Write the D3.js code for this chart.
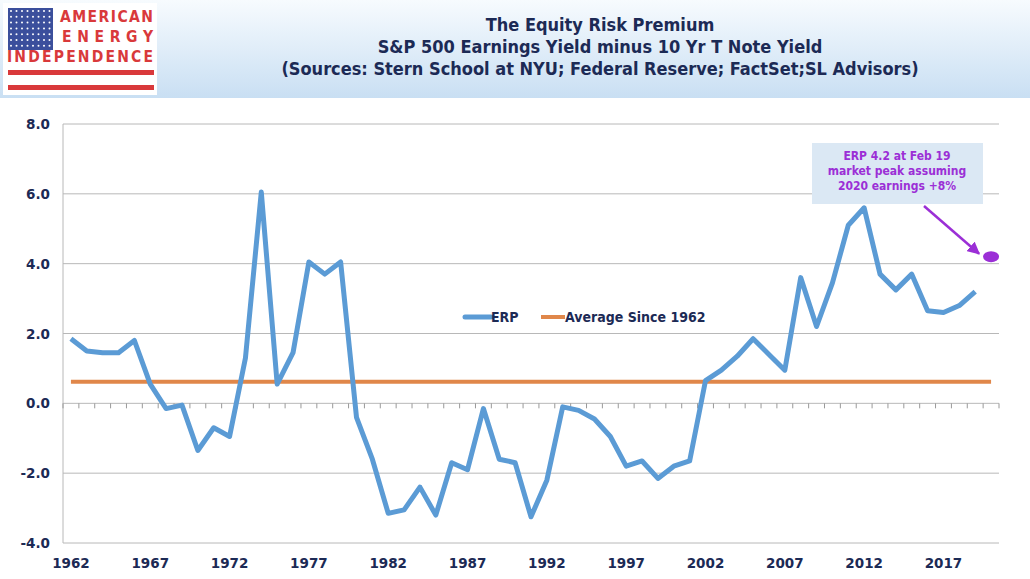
<!DOCTYPE html>
<html><head><meta charset="utf-8">
<script src="https://cdn.jsdelivr.net/npm/d3@7"></script>
<style>body{margin:0;background:#fff}</style>
</head><body>
<svg id="chart" width="1030" height="579"></svg>
<script>
const years = d3.range(1962, 2021);
const erp = [1.85,1.5,1.45,1.45,1.8,0.55,-0.15,-0.05,-1.35,-0.7,-0.95,1.3,6.05,0.55,1.45,4.05,3.7,4.05,-0.4,-1.6,
  -3.15,-3.05,-2.4,-3.2,-1.7,-1.9,-0.15,-1.6,-1.7,-3.25,-2.2,-0.1,-0.2,-0.45,-0.95,-1.8,-1.65,-2.15,-1.8,-1.65,
  0.65,0.95,1.35,1.85,1.4,0.95,3.6,2.2,3.45,5.1,5.6,3.7,3.25,3.7,2.65,2.6,2.8,3.2];
const average = 0.62;
const projected = {year: 2020, value: 4.2};
const yTicks = [-4, -2, 0, 2, 4, 6, 8];
const xLabels = [1962,1967,1972,1977,1982,1987,1992,1997,2002,2007,2012,2017];
const titleLines = ["The Equity Risk Premium", "S&P 500 Earnings Yield minus 10 Yr T Note Yield",
  "(Sources: Stern School at NYU; Federal Reserve; FactSet;SL Advisors)"];
const noteLines = ["ERP 4.2 at Feb 19", "market peak assuming", "2020  earnings +8%"];

const svg = d3.select('#chart');
const navy = '#1c2a55', blue = '#5b9bd5', orange = '#e0874a', purple = '#9b2fd6';

// header
const defs = svg.append('defs');
const g = defs.append('linearGradient').attr('id', 'hdr').attr('x1', 0).attr('y1', 0).attr('x2', 0).attr('y2', 1);
g.append('stop').attr('offset', 0).attr('stop-color', '#f7fbfe');
g.append('stop').attr('offset', 1).attr('stop-color', '#c9dff3');
svg.append('rect').attr('x', 0).attr('y', 0).attr('width', 1030).attr('height', 98).attr('fill', 'url(#hdr)');
svg.selectAll('text.title').data(titleLines).enter().append('text')
  .attr('x', 600).attr('y', (d, i) => 31 + i * 22)
  .attr('text-anchor', 'middle').attr('font-family', 'DejaVu Sans Condensed, DejaVu Sans')
  .attr('font-weight', 'bold').attr('font-size', 18).attr('fill', navy).text(d => d);

// logo
const logo = svg.append('g').attr('font-weight', 'bold').attr('fill', '#d9393b');
logo.append('rect').attr('x', 3).attr('y', 3).attr('width', 154).attr('height', 92).attr('fill', '#fff');
logo.append('rect').attr('x', 8).attr('y', 8).attr('width', 45).attr('height', 42).attr('fill', '#3b4f9c');
for (let r = 0; r < 7; r++) for (let c = 0; c < 8; c++)
  logo.append('circle').attr('cx', 11 + c * 5.5).attr('cy', 11 + r * 5.8).attr('r', 1).attr('fill', '#fff');
logo.append('text').attr('x', 60).attr('y', 22).attr('font-family', 'DejaVu Sans Condensed').attr('font-size', 15.5)
  .attr('textLength', 93).text('AMERICAN');
logo.append('text').attr('x', 62).attr('y', 42).attr('font-family', 'DejaVu Sans Condensed').attr('font-size', 15.5)
  .attr('textLength', 91).text('ENERGY');
logo.append('text').attr('x', 7).attr('y', 62).attr('font-family', 'DejaVu Sans Condensed').attr('font-size', 15.5)
  .attr('textLength', 146).text('INDEPENDENCE');
logo.append('rect').attr('x', 8).attr('y', 70).attr('width', 146).attr('height', 5);
logo.append('rect').attr('x', 8).attr('y', 85).attr('width', 146).attr('height', 5);

// scales
const x = d3.scaleBand().domain(years).range([63, 999]);
const cx = d => x(d) + x.bandwidth() / 2;
const y = d3.scaleLinear().domain([-4, 8]).range([543, 124]);

svg.append('g').selectAll('line').data(yTicks).enter().append('line')
  .attr('x1', 63).attr('x2', 999).attr('y1', d => y(d)).attr('y2', d => y(d))
  .attr('stroke', '#b8b8b8').attr('stroke-width', 1);
svg.append('line').attr('x1', 63).attr('x2', 63).attr('y1', 124).attr('y2', 543).attr('stroke', '#b8b8b8');
// category ticks on zero line
svg.append('g').selectAll('line').data(years.concat([2021])).enter().append('line')
  .attr('x1', d => d === 2021 ? 999 : x(d)).attr('x2', d => d === 2021 ? 999 : x(d))
  .attr('y1', y(0)).attr('y2', y(0) + 5).attr('stroke', '#999');

svg.append('g').selectAll('text').data(yTicks).enter().append('text')
  .attr('x', 50).attr('y', d => y(d) + 5).attr('text-anchor', 'end')
  .attr('font-family', 'DejaVu Sans').attr('font-weight', 'bold').attr('font-size', 13.5).attr('fill', navy)
  .text(d => d.toFixed(1));
svg.append('g').selectAll('text').data(xLabels).enter().append('text')
  .attr('x', d => cx(d)).attr('y', 568).attr('text-anchor', 'middle')
  .attr('font-family', 'DejaVu Sans').attr('font-weight', 'bold').attr('font-size', 13.5).attr('fill', navy)
  .text(d => d);

// average line
svg.append('line').attr('x1', cx(1962)).attr('x2', cx(2020)).attr('y1', y(average)).attr('y2', y(average))
  .attr('stroke', orange).attr('stroke-width', 4);

// ERP line
svg.append('path').datum(erp)
  .attr('d', d3.line().x((d, i) => cx(years[i])).y(d => y(d)))
  .attr('fill', 'none').attr('stroke', blue).attr('stroke-width', 5).attr('stroke-linejoin', 'round');

// legend
svg.append('line').attr('x1', 465).attr('x2', 491).attr('y1', 317).attr('y2', 317).attr('stroke', blue).attr('stroke-width', 5).attr('stroke-linecap', 'round');
svg.append('text').attr('x', 491).attr('y', 322).attr('font-family', 'DejaVu Sans Condensed').attr('font-weight', 'bold')
  .attr('font-size', 14).attr('fill', navy).text('ERP');
svg.append('line').attr('x1', 541).attr('x2', 565).attr('y1', 317).attr('y2', 317).attr('stroke', orange).attr('stroke-width', 4);
svg.append('text').attr('x', 565).attr('y', 322).attr('font-family', 'DejaVu Sans Condensed').attr('font-weight', 'bold')
  .attr('font-size', 14).attr('fill', navy).text('Average Since 1962');

// annotation
svg.append('rect').attr('x', 812).attr('y', 143).attr('width', 171).attr('height', 61).attr('fill', '#dbe8f4');
svg.selectAll('text.note').data(noteLines).enter().append('text')
  .attr('x', 897).attr('y', (d, i) => 160 + i * 15).attr('text-anchor', 'middle')
  .attr('font-family', 'DejaVu Sans Condensed').attr('font-weight', 'bold').attr('font-size', 12).attr('fill', purple)
  .text(d => d);
defs.append('marker').attr('id', 'arr').attr('viewBox', '0 0 10 10').attr('refX', 9).attr('refY', 5)
  .attr('markerWidth', 5).attr('markerHeight', 5).attr('orient', 'auto')
  .append('path').attr('d', 'M0,0L10,5L0,10z').attr('fill', purple);
svg.append('line').attr('x1', 924).attr('y1', 206).attr('x2', cx(projected.year) - 12).attr('y2', y(projected.value) - 3)
  .attr('stroke', purple).attr('stroke-width', 2.5).attr('marker-end', 'url(#arr)');
svg.append('ellipse').attr('cx', cx(projected.year)).attr('cy', y(projected.value)).attr('rx', 8).attr('ry', 5.5).attr('fill', purple);
</script>
</body></html>
